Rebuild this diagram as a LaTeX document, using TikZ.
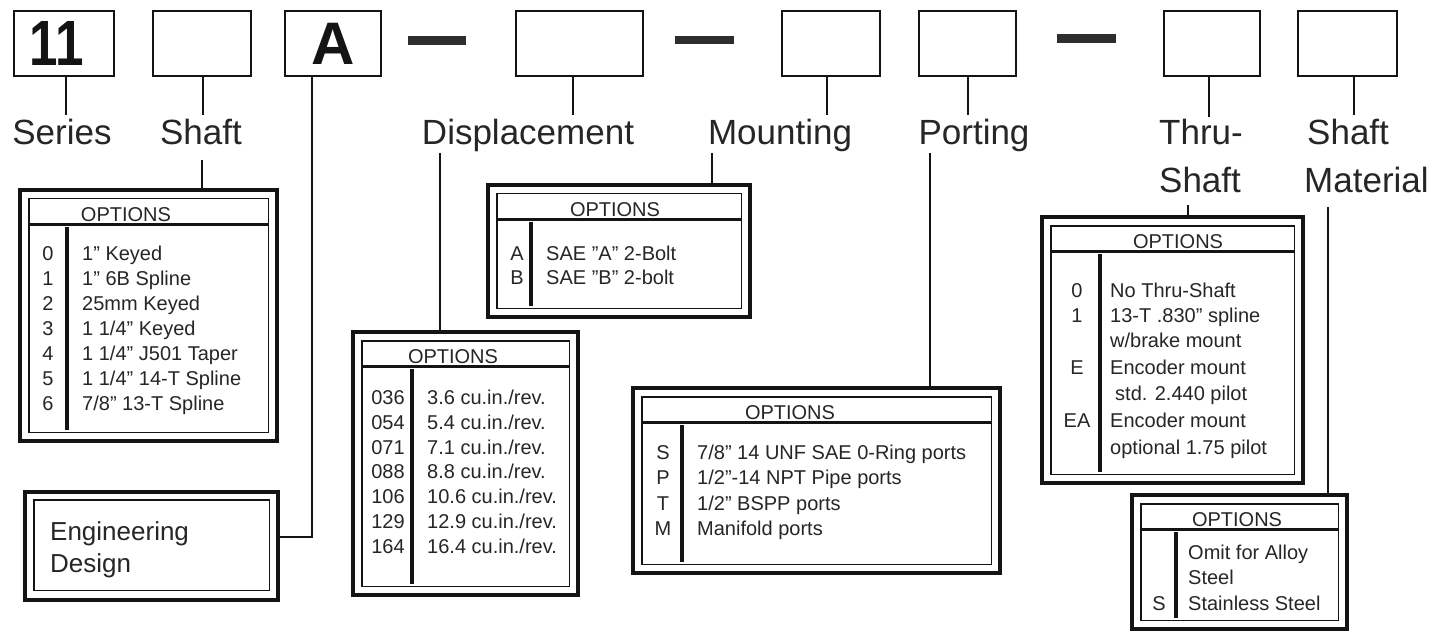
\documentclass[tikz,border=0pt]{standalone}
\usepackage{fontspec}
\setmainfont{Liberation Sans}
\usepackage{graphicx}
\usetikzlibrary{fit}
\definecolor{ink}{HTML}{141414}
\definecolor{txt}{HTML}{262626}
\definecolor{dashc}{HTML}{2E2E2E}
\tikzset{
  topbox/.style={draw=ink, line width=2pt, anchor=north west, minimum height=65pt, inner sep=0pt},
  lbl/.style={font=\fontsize{35}{42}\selectfont, text=txt, inner sep=0pt},
  link/.style={draw=ink, line width=2pt},
  outerframe/.style={draw=ink, line width=4.5pt, inner sep=0pt},
  innerframe/.style={draw=ink, line width=1.5pt},
  hdrline/.style={draw=ink, line width=3pt},
  colline/.style={draw=ink, line width=3.5pt},
  opthead/.style={font=\fontsize{20}{24}\selectfont, text=txt, anchor=base, inner sep=0pt},
  optcode/.style={font=\fontsize{20}{24}\selectfont, text=txt, anchor=base, inner sep=0pt},
  opttxt/.style={font=\fontsize{20}{24}\selectfont, text=txt, anchor=base west, inner sep=0pt},
  engtxt/.style={font=\fontsize{26}{32}\selectfont, text=txt, anchor=base west, inner sep=0pt},
  dashbar/.style={fill=dashc}
}
\newcommand\optframe[7]{%
  \coordinate (#1-p) at (#2,#3);
  \coordinate (#1-q) at (#4,#5);
  \node[outerframe, fit=(#1-p)(#1-q)] (#1) {};
  \draw[innerframe] ([shift={(11pt,-11pt)}]#1.north west) rectangle ([shift={(-11pt,11pt)}]#1.south east);
  \draw[hdrline] ([shift={(11pt,-37pt)}]#1.north west) -- ([shift={(-11pt,-37pt)}]#1.north east);
  \draw[colline] (#6,#3+37) -- (#6,#5-11);
  \node[opthead] (#1-h) at (#7,#3+31) {OPTIONS};
}
\newcommand\orow[6]{%
  \node[optcode] (#1c) at (#3,#2) {#4};
  \node[opttxt] (#1t) at (#5,#2) {#6};
}
\newcommand\otxt[4]{%
  \node[opttxt] (#1t) at (#3,#2) {#4};
}
\begin{document}
\begin{tikzpicture}[x=1pt,y=-1pt]
\useasboundingbox (0,0) rectangle (1442,631);
\fill[white] (0,0) rectangle (1442,631);

% ---------- top code boxes ----------
\node[topbox, minimum width=100pt, font=\fontsize{64}{70}\selectfont\bfseries, text=ink] (b11) at (13,10) {\hspace*{-14pt}\scalebox{0.8}[1]{11}};
\node[topbox, minimum width=98pt] (bShaft) at (152,10) {};
\node[topbox, minimum width=96pt, font=\fontsize{60}{66}\selectfont\bfseries, text=ink] (bA) at (284,10) {A};
\node[topbox, minimum width=127pt] (bDisp) at (515,10) {};
\node[topbox, minimum width=98pt] (bMount) at (781,10) {};
\node[topbox, minimum width=97pt] (bPort) at (918,10) {};
\node[topbox, minimum width=96pt] (bThru) at (1163,10) {};
\node[topbox, minimum width=99pt] (bMat) at (1297,10) {};

% dashes
\fill[dashbar] (408,36) rectangle (466,45);
\fill[dashbar] (675,36) rectangle (734,44);
\fill[dashbar] (1057,34) rectangle (1116,43);

% ---------- labels ----------
\node[lbl, anchor=base] (lSeries) at (62,145) {Series};
\node[lbl, anchor=base] (lShaft) at (201,145) {Shaft};
\node[lbl, anchor=base] (lDisp) at (528,145) {Displacement};
\node[lbl, anchor=base] (lMount) at (780,145) {Mounting};
\node[lbl, anchor=base] (lPort) at (974,145) {Porting};
\node[lbl, anchor=base] (lThruA) at (1201,145) {Thru-};
\node[lbl, anchor=base] (lThruB) at (1200,193) {Shaft};
\node[lbl, anchor=base west] (lMatA) at (1307,145) {Shaft};
\node[lbl, anchor=base west] (lMatB) at (1304,193) {Material};

% ---------- connectors top boxes -> labels ----------
\draw[link] ([xshift=2pt]b11.south) -- ++(0,38);
\draw[link] ([xshift=1pt]bShaft.south) -- ++(0,38);
\draw[link] ([xshift=-6.5pt]bDisp.south) -- ++(0,38);
\draw[link] ([xshift=-4pt]bMount.south) -- ++(0,38);
\draw[link] ([xshift=0.5pt]bPort.south) -- ++(0,38);
\draw[link] ([xshift=-3pt]bThru.south) -- ++(0,40);
\draw[link] ([xshift=6.5pt]bMat.south) -- ++(0,38);

% ---------- option frames ----------
\optframe{oShaft}{20}{190}{277}{441}{67}{126}
\optframe{oDisp}{353}{332}{578}{595}{412}{453}
\optframe{oMount}{488}{185}{750}{317}{531}{615}
\optframe{oPort}{633}{388}{1000}{573}{682}{790}
\optframe{oThru}{1042}{217}{1303}{483}{1100}{1178}
\optframe{oMat}{1132}{495}{1347}{629}{1176}{1237}

% Engineering design box
\coordinate (eng-p) at (25,492);
\coordinate (eng-q) at (278,600);
\node[outerframe, fit=(eng-p)(eng-q)] (eng) {};
\draw[innerframe] ([shift={(11pt,-10pt)}]eng.north west) rectangle ([shift={(-11pt,12pt)}]eng.south east);
\node[engtxt] (engA) at (50,540) {Engineering};
\node[engtxt] (engB) at (50,572) {Design};

% ---------- connectors labels -> options ----------
\coordinate (tShaft) at (202,160);
\coordinate (tDisp) at (440,153);
\coordinate (tMount) at (712,153);
\coordinate (tPort) at (930,153);
\coordinate (tThru) at (1188,205);
\coordinate (tMat) at (1328,207);
\draw[link] (tShaft) -- (tShaft |- oShaft.north);
\draw[link] (tDisp) -- (tDisp |- oDisp.north);
\draw[link] (tMount) -- (tMount |- oMount.north);
\draw[link] (tPort) -- (tPort |- oPort.north);
\draw[link] (tThru) -- (tThru |- oThru.north);
\draw[link] (tMat) -- (tMat |- oMat.north);
\draw[link] ([xshift=-21pt]bA.south) |- ([yshift=9pt]eng.east);

% ---------- option rows ----------
% Shaft
\orow{s0}{260}{48}{0}{82}{1" Keyed}
\orow{s1}{285}{48}{1}{82}{1" 6B Spline}
\orow{s2}{310}{48}{2}{82}{25mm Keyed}
\orow{s3}{335}{48}{3}{82}{1 1/4" Keyed}
\orow{s4}{360}{48}{4}{82}{1 1/4" J501 Taper}
\orow{s5}{385}{48}{5}{82}{1 1/4" 14-T Spline}
\orow{s6}{410}{48}{6}{82}{7/8" 13-T Spline}
% Displacement
\orow{d1}{404}{388}{036}{427}{3.6 cu.in./rev.}
\orow{d2}{429}{388}{054}{427}{5.4 cu.in./rev.}
\orow{d3}{454}{388}{071}{427}{7.1 cu.in./rev.}
\orow{d4}{478}{388}{088}{427}{8.8 cu.in./rev.}
\orow{d5}{503}{388}{106}{427}{10.6 cu.in./rev.}
\orow{d6}{528}{388}{129}{427}{12.9 cu.in./rev.}
\orow{d7}{553}{388}{164}{427}{16.4 cu.in./rev.}
% Mounting
\orow{m1}{260}{517}{A}{546}{SAE "A" 2-Bolt}
\orow{m2}{284}{517}{B}{546}{SAE "B" 2-bolt}
% Porting
\orow{p1}{459}{663}{S}{697}{7/8" 14 UNF SAE 0-Ring ports}
\orow{p2}{484}{663}{P}{697}{1/2"-14 NPT Pipe ports}
\orow{p3}{510}{663}{T}{697}{1/2" BSPP ports}
\orow{p4}{535}{663}{M}{697}{Manifold ports}
% Thru-shaft
\orow{t1}{297}{1077}{0}{1110}{No Thru-Shaft}
\orow{t2}{322}{1077}{1}{1110}{13-T .830" spline}
\otxt{t3}{347}{1110}{w/brake mount}
\orow{t4}{374}{1077}{E}{1110}{Encoder mount}
\otxt{t5}{400}{1115}{std. 2.440 pilot}
\orow{t6}{427}{1077}{EA}{1110}{Encoder mount}
\otxt{t7}{454}{1110}{optional 1.75 pilot}
% Shaft material
\otxt{x1}{559}{1188}{Omit for Alloy}
\otxt{x2}{584}{1188}{Steel}
\orow{x3}{610}{1159}{S}{1188}{Stainless Steel}
\end{tikzpicture}
\end{document}
